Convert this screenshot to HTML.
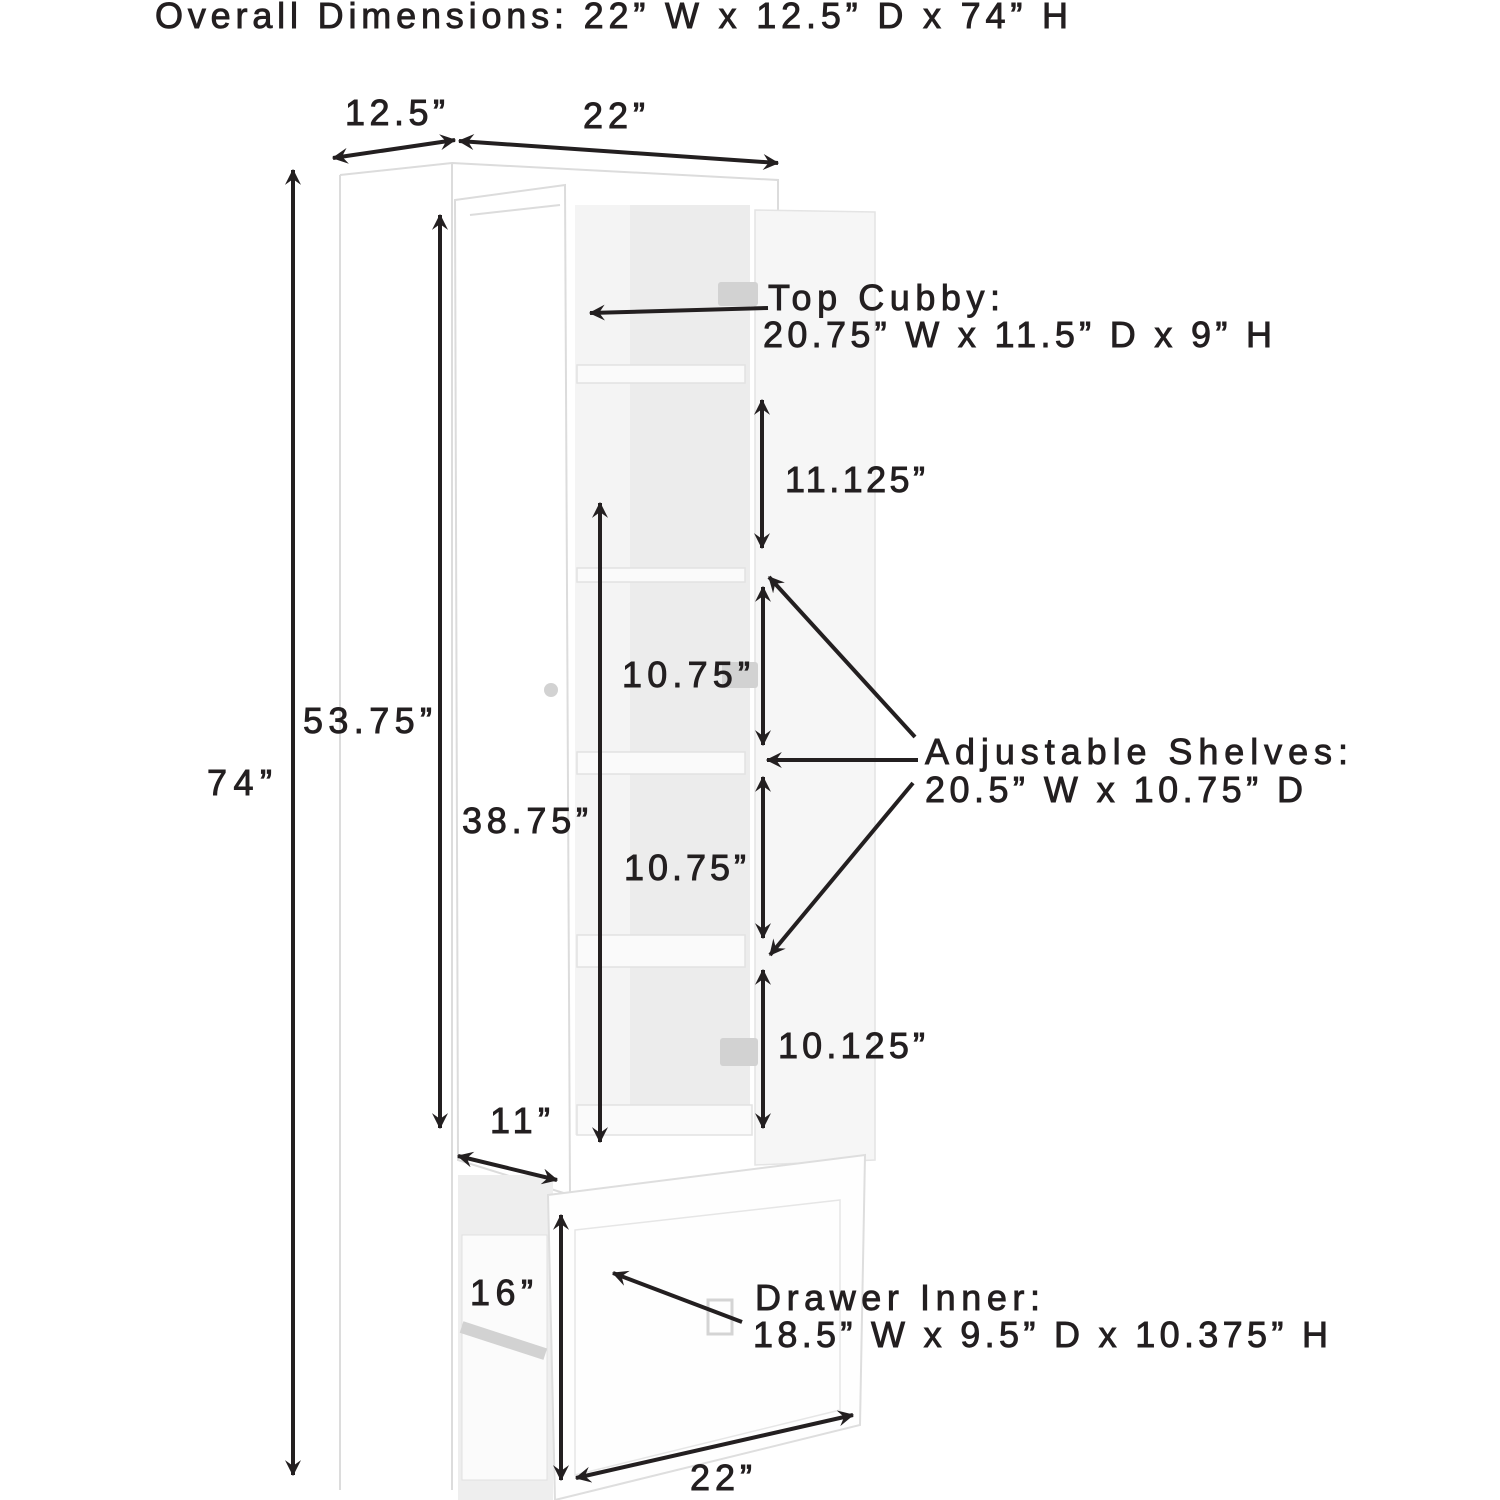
<!DOCTYPE html>
<html><head><meta charset="utf-8"><style>
html,body{margin:0;padding:0;background:#fff}
svg{display:block}
text{font-family:"Liberation Sans",sans-serif;fill:#231f20;font-size:36px;stroke:#231f20;stroke-width:0.9px}
</style></head><body>
<svg width="1500" height="1500" viewBox="0 0 1500 1500" xmlns="http://www.w3.org/2000/svg">
<defs>
<marker id="a" viewBox="0 0 14 14" refX="13" refY="7" markerWidth="16" markerHeight="16" markerUnits="userSpaceOnUse" orient="auto-start-reverse">
<path d="M0,0 L14,7 L0,14 L5,7 z" fill="#231f20"/>
</marker>
</defs>
<g fill="none" stroke="#dcdcdc" stroke-width="2">
<path d="M340,175 L452,163 L778,180 L778,210"/>
<path d="M340,175 L340,1490"/>
<path d="M452,163 L452,1490"/>
<path d="M455,200 L565,185 L570,1195 L458,1160 Z"/>
<path d="M470,215 L560,205"/>
</g>
<rect x="575" y="205" width="175" height="930" fill="#ececec"/>
<rect x="575" y="205" width="55" height="930" fill="#f4f4f4"/>
<g fill="#fafafa" stroke="#e2e2e2" stroke-width="1.5">
<rect x="577" y="365" width="168" height="18"/>
<rect x="577" y="568" width="168" height="14"/>
<rect x="577" y="752" width="168" height="22"/>
<rect x="577" y="935" width="168" height="32"/>
<rect x="577" y="1105" width="175" height="30"/>
</g>
<path d="M755,210 L875,212 L875,1160 L755,1165 Z" fill="#f6f6f6" stroke="#e4e4e4" stroke-width="1.5"/>
<rect x="458" y="1175" width="95" height="325" fill="#eeeeee"/>
<rect x="462" y="1235" width="85" height="245" fill="#fbfbfb" stroke="#e0e0e0"/>
<path d="M548,1195 L865,1155 L860,1425 L555,1500 Z" fill="#fefefe" stroke="#dedede" stroke-width="2"/>
<path d="M575,1230 L840,1200 L840,1410 L575,1475 Z" fill="none" stroke="#e6e6e6" stroke-width="1.5"/>
<g fill="#d2d2d2">
<rect x="718" y="282" width="40" height="24" rx="3"/>
<rect x="722" y="662" width="36" height="26" rx="3"/>
<rect x="720" y="1038" width="38" height="28" rx="3"/>
<circle cx="551" cy="690" r="7"/>
<rect x="460" y="1335" width="88" height="12" transform="rotate(18 505 1339)"/>
<rect x="708" y="1300" width="24" height="34" fill="none" stroke="#d4d4d4" stroke-width="3"/>
</g>
<g stroke="#231f20" stroke-width="4" fill="none" marker-start="url(#a)" marker-end="url(#a)">
<line x1="333" y1="158" x2="455" y2="140"/>
<line x1="459" y1="141" x2="778" y2="163"/>
<line x1="293" y1="170" x2="293" y2="1475"/>
<line x1="440" y1="215" x2="440" y2="1128"/>
<line x1="762" y1="400" x2="762" y2="548"/>
<line x1="600" y1="503" x2="600" y2="1142"/>
<line x1="763" y1="587" x2="763" y2="745"/>
<line x1="763" y1="777" x2="763" y2="938"/>
<line x1="763" y1="970" x2="763" y2="1128"/>
<line x1="458" y1="1156" x2="557" y2="1180"/>
<line x1="561" y1="1215" x2="561" y2="1480"/>
<line x1="576" y1="1478" x2="853" y2="1415"/>
</g>
<g stroke="#231f20" stroke-width="4" fill="none" marker-end="url(#a)">
<line x1="768" y1="308" x2="590" y2="313"/>
<line x1="915" y1="737" x2="769" y2="577"/>
<line x1="918" y1="760" x2="767" y2="760"/>
<line x1="913" y1="783" x2="770" y2="955"/>
<line x1="742" y1="1322" x2="613" y2="1273"/>
</g>
<text x="155" y="28" textLength="913" lengthAdjust="spacing">Overall Dimensions: 22” W x 12.5” D x 74” H</text>
<text x="345" y="125" textLength="100" lengthAdjust="spacing">12.5”</text>
<text x="583" y="128" textLength="62" lengthAdjust="spacing">22”</text>
<text x="768" y="310" textLength="232" lengthAdjust="spacing">Top Cubby:</text>
<text x="763" y="347" textLength="509" lengthAdjust="spacing">20.75” W x 11.5” D x 9” H</text>
<text x="785" y="492" textLength="140" lengthAdjust="spacing">11.125”</text>
<text x="303" y="733" textLength="129" lengthAdjust="spacing">53.75”</text>
<text x="207" y="795" textLength="65" lengthAdjust="spacing">74”</text>
<text x="622" y="687" textLength="128" lengthAdjust="spacing">10.75”</text>
<text x="925" y="764" textLength="423" lengthAdjust="spacing">Adjustable Shelves:</text>
<text x="925" y="802" textLength="378" lengthAdjust="spacing">20.5” W x 10.75” D</text>
<text x="462" y="833" textLength="126" lengthAdjust="spacing">38.75”</text>
<text x="624" y="880" textLength="122" lengthAdjust="spacing">10.75”</text>
<text x="778" y="1058" textLength="147" lengthAdjust="spacing">10.125”</text>
<text x="490" y="1133" textLength="60" lengthAdjust="spacing">11”</text>
<text x="470" y="1305" textLength="63" lengthAdjust="spacing">16”</text>
<text x="755" y="1310" textLength="285" lengthAdjust="spacing">Drawer Inner:</text>
<text x="753" y="1347" textLength="575" lengthAdjust="spacing">18.5” W x 9.5” D x 10.375” H</text>
<text x="690" y="1490" textLength="62" lengthAdjust="spacing">22”</text>
</svg>
</body></html>
